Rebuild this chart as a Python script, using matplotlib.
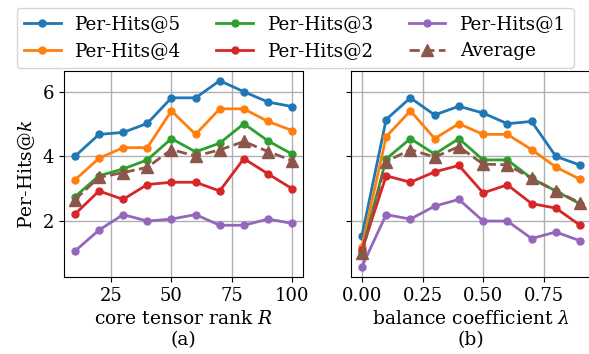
import numpy as np
import matplotlib
matplotlib.use("Agg")
import matplotlib.pyplot as plt

plt.rcParams['font.family'] = 'DejaVu Serif'
plt.rcParams['mathtext.fontset'] = 'dejavuserif'
plt.rcParams['font.size'] = 13.5

# (a) core tensor rank R
rank = [10, 20, 30, 40, 50, 60, 70, 80, 90, 100]
rank_hits5 = [4.00, 4.68, 4.74, 5.02, 5.81, 5.81, 6.34, 6.00, 5.68, 5.54]
rank_hits4 = [3.27, 3.94, 4.27, 4.27, 5.41, 4.68, 5.47, 5.47, 5.08, 4.80]
rank_hits3 = [2.75, 3.40, 3.61, 3.89, 4.55, 4.14, 4.41, 5.01, 4.48, 4.07]
rank_hits2 = [2.21, 2.93, 2.67, 3.13, 3.20, 3.20, 2.93, 3.93, 3.46, 3.00]
rank_hits1 = [1.07, 1.72, 2.20, 2.00, 2.06, 2.20, 1.87, 1.87, 2.06, 1.93]
rank_avg = [2.66, 3.35, 3.50, 3.66, 4.21, 4.01, 4.20, 4.46, 4.15, 3.87]

# (b) balance coefficient lambda
lam = [0.0, 0.1, 0.2, 0.3, 0.4, 0.5, 0.6, 0.7, 0.8, 0.9]
lam_hits5 = [1.54, 5.14, 5.81, 5.28, 5.55, 5.34, 5.01, 5.08, 4.00, 3.73]
lam_hits4 = [1.21, 4.61, 5.41, 4.55, 5.01, 4.68, 4.68, 4.21, 3.67, 3.29]
lam_hits3 = [1.05, 3.92, 4.55, 4.07, 4.55, 3.89, 3.89, 3.32, 2.93, 2.53]
lam_hits2 = [1.10, 3.40, 3.20, 3.52, 3.72, 2.87, 3.12, 2.54, 2.40, 1.87]
lam_hits1 = [0.59, 2.20, 2.06, 2.46, 2.67, 2.00, 2.00, 1.46, 1.66, 1.39]
lam_avg = [1.00, 3.84, 4.21, 3.98, 4.30, 3.76, 3.74, 3.32, 2.93, 2.56]

labels = ['Per-Hits@5', 'Per-Hits@4', 'Per-Hits@3', 'Per-Hits@2', 'Per-Hits@1']
colors = ['tab:blue', 'tab:orange', 'tab:green', 'tab:red', 'tab:purple']

fig = plt.figure(figsize=(5.89, 3.54), dpi=100)
ax1 = fig.add_axes([64/589, 77/354, 239/589, 206/354])
ax2 = fig.add_axes([351/589, 77/354, 240/589, 206/354], sharey=ax1)


def draw(ax, x, series, avg):
    for y, lab, c in zip(series, labels, colors):
        ax.plot(x, y, '-o', color=c, label=lab, linewidth=2, markersize=5)
    ax.plot(x, avg, '--^', color='tab:brown', label='Average', linewidth=2, markersize=9)
    ax.grid(True, color='#b0b0b0', linewidth=1)
    ax.tick_params(labelsize=13)


draw(ax1, rank, [rank_hits5, rank_hits4, rank_hits3, rank_hits2, rank_hits1], rank_avg)
draw(ax2, lam, [lam_hits5, lam_hits4, lam_hits3, lam_hits2, lam_hits1], lam_avg)

ax1.set_ylim(0.27, 6.64)
ax1.set_yticks([2, 4, 6])
ax1.set_xticks([25, 50, 75, 100])
ax2.set_xticks([0.0, 0.25, 0.5, 0.75, 1.0])
ax2.set_xticklabels(['0.00', '0.25', '0.50', '0.75', '1.00'])
ax2.tick_params(labelleft=False)
ax1.set_xlim(5.5, 104.5)
ax2.set_xlim(-0.045, 0.945)

ax1.set_ylabel('Per-Hits@$k$')
ax1.set_xlabel('core tensor rank $R$\n(a)', linespacing=1.2)
ax2.set_xlabel('balance coefficient $\\lambda$\n(b)', linespacing=1.2)

handles, labs = ax1.get_legend_handles_labels()
fig.legend(handles, labs, loc='upper center', bbox_to_anchor=(0.501, 0.993),
           ncol=3, fontsize=13.2, columnspacing=1.9, borderaxespad=0.3)

fig.savefig('out.png', dpi=100)
